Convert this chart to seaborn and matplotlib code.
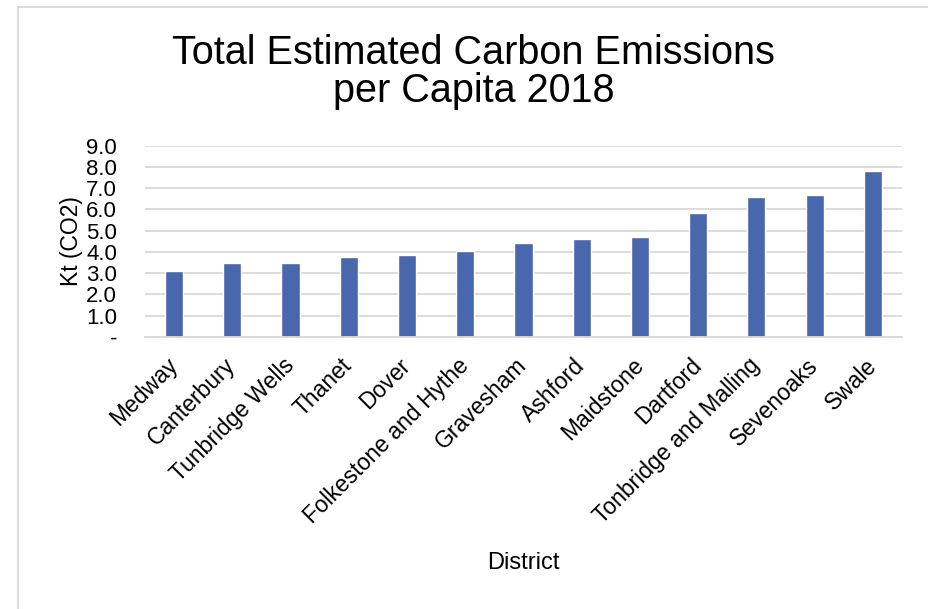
import matplotlib.pyplot as plt
import seaborn as sns
import pandas as pd

districts = ["Medway", "Canterbury", "Tunbridge Wells", "Thanet", "Dover",
             "Folkestone and Hythe", "Gravesham", "Ashford", "Maidstone",
             "Dartford", "Tonbridge and Malling", "Sevenoaks", "Swale"]
emissions = [3.10, 3.48, 3.48, 3.76, 3.86, 4.05, 4.42, 4.61, 4.70, 5.83, 6.59, 6.68, 7.81]
y_ticks = [0, 1, 2, 3, 4, 5, 6, 7, 8, 9]
y_tick_labels = ["-", "1.0", "2.0", "3.0", "4.0", "5.0", "6.0", "7.0", "8.0", "9.0"]

df = pd.DataFrame({"District": districts, "Kt": emissions})

sns.set_style("white")
plt.rcParams['font.family'] = ['Liberation Sans', 'DejaVu Sans']
plt.rcParams['text.color'] = 'black'
plt.rcParams['axes.labelcolor'] = 'black'

fig = plt.figure(figsize=(9.29, 6.09), dpi=100)
ax = fig.add_axes([0.156, 0.4466, 0.815, 0.3144])

sns.barplot(data=df, x="District", y="Kt", color="#4967AD", saturation=1,
            width=0.31, ax=ax)

ax.set_xlim(-0.5, len(districts) - 0.5)
ax.set_ylim(0, 9)
ax.set_yticks(y_ticks)
ax.set_yticklabels(y_tick_labels)
ax.yaxis.grid(True, color="#d9d9d9", lw=1.3)
ax.set_axisbelow(True)
for s in ["top", "right", "left"]:
    ax.spines[s].set_visible(False)
ax.spines["bottom"].set_color("#d9d9d9")
ax.spines["bottom"].set_linewidth(1.3)

ax.tick_params(axis="y", length=0, labelsize=16, pad=20, colors="black")
ax.tick_params(axis="x", length=0, labelsize=16.5, pad=18, colors="black")
for lbl in ax.get_xticklabels():
    lbl.set_rotation(45)
    lbl.set_ha("right")
    lbl.set_va("center")
    lbl.set_rotation_mode("anchor")

ax.set_xlabel("District", fontsize=17)
ax.xaxis.set_label_coords(0.5, -1.125)
ax.set_ylabel("Kt (CO2)", fontsize=16.5)
ax.yaxis.set_label_coords(-0.082, 0.5)

fig.text(0.51, 0.882, "Total Estimated Carbon Emissions\nper Capita 2018",
         ha="center", va="center", fontsize=28.5, linespacing=1.02)

# light chart-area frame
fig.add_artist(plt.Line2D([18 / 929, 1], [1 - 7 / 609] * 2, color="#d9d9d9", lw=1.3))
fig.add_artist(plt.Line2D([18 / 929] * 2, [0, 1 - 7 / 609], color="#d9d9d9", lw=1.3))

fig.savefig("out.png", dpi=100)
